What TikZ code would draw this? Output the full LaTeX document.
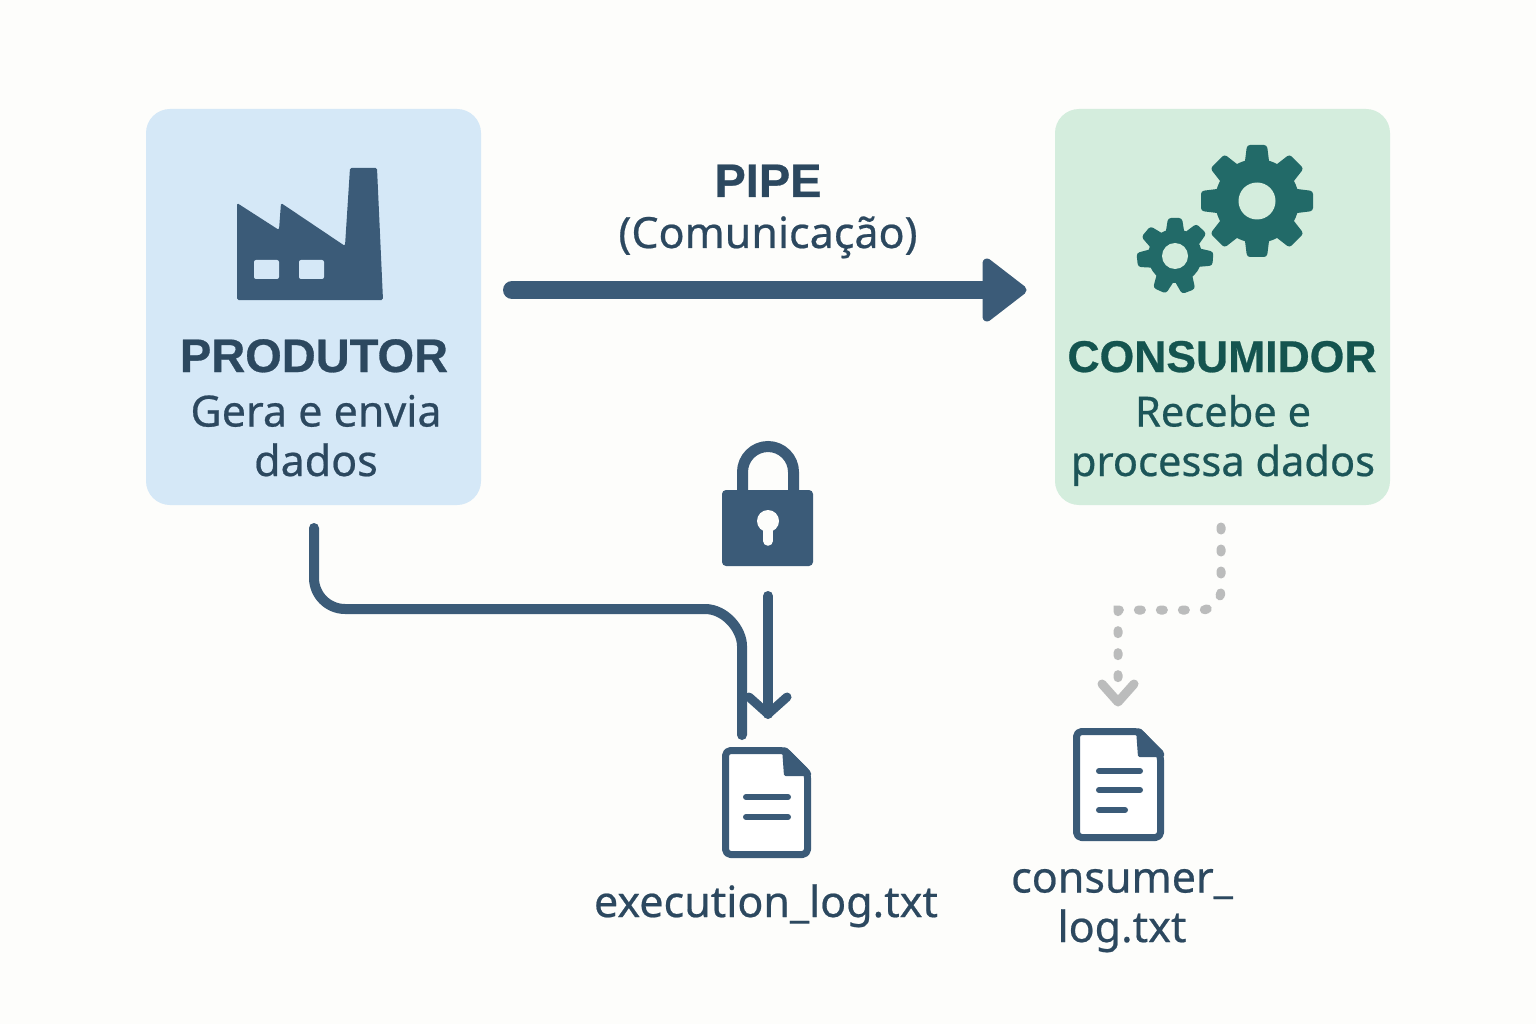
\documentclass[tikz,border=0pt]{standalone}
\usepackage{fontspec}
\setmainfont{Noto Sans}[FakeBold=0.5]
\newfontfamily\titlefont{Liberation Sans}[BoldFeatures={FakeBold=0.6}]
\usetikzlibrary{arrows.meta}
\definecolor{pagebg}{HTML}{FDFDFB}
\definecolor{bluebox}{HTML}{D5E8F7}
\definecolor{greenbox}{HTML}{D4EDDD}
\definecolor{navy}{HTML}{3B5B78}
\definecolor{inknavy}{HTML}{2C485F}
\definecolor{inkgreen}{HTML}{14544F}
\definecolor{bodygreen}{HTML}{1C5558}
\definecolor{gearteal}{HTML}{226A68}
\definecolor{dotgray}{HTML}{BBBCBC}
\tikzset{
  panel/.style={rounded corners=24pt,minimum width=335pt,minimum height=396pt,inner sep=0pt},
  titletext/.style={anchor=base,font=\fontsize{47}{50}\selectfont\titlefont\bfseries,text=inknavy},
  bodytext/.style={anchor=base,align=center,font=\fontsize{43}{49.5}\selectfont,text=inknavy},
  conn/.style={draw=navy,line width=10pt,line cap=round,line join=round},
  docline/.style={draw=navy,line width=6pt,line cap=round},
  docbody/.style={draw=navy,line width=7pt,fill=white,rounded corners=5pt,line join=round},
  docfold/.style={fill=navy,rounded corners=1.5pt},
  solidicon/.style={fill=navy,rounded corners=1.5pt},
}
\newcommand{\geartooth}[4]{% angle, base, outer, half width
  \begin{scope}[rotate=#1]
    \fill[rounded corners=3pt] (#2-6,-#4-2) -- (#3,-#4+1) -- (#3,#4-1) -- (#2-6,#4+2) -- cycle;
  \end{scope}}
\begin{document}
\begin{tikzpicture}[x=1pt,y=-1pt]
\useasboundingbox (0,0) rectangle (1536,1024);
\fill[pagebg] (0,0) rectangle (1536,1024);

\node[panel,fill=bluebox] (prod) at (313.5,307) {};
\node[panel,fill=greenbox] (cons) at (1222.5,307) {};

% factory
\fill[solidicon] (237,203) -- (279,230) -- (281,203) -- (345,246) -- (350,168) -- (377,168) -- (383,300) -- (237,300) -- cycle;
\fill[bluebox,rounded corners=2pt] (254,260) rectangle (279,279);
\fill[bluebox,rounded corners=2pt] (299,260) rectangle (324,279);

% gears
\begin{scope}[shift={(1257,201)},fill=gearteal]
  \fill circle (42);
  \foreach \a in {0,45,...,315} {\geartooth{\a}{38}{56}{11}}
  \fill[greenbox] circle (18.5);
\end{scope}
\begin{scope}[shift={(1175,256)},fill=gearteal]
  \fill circle (27);
  \foreach \a in {90,46,-4,-69,-114,-174,140} {\geartooth{\a}{25}{38}{8}}
  \fill[greenbox] circle (13);
\end{scope}

% labels
\node[titletext] (prodt) at (314,372) {PRODUTOR};
\node[bodytext] (prodb) at (316,476) {Gera e envia\\dados};
\node[titletext,text=inkgreen,font=\fontsize{44.5}{50}\selectfont\titlefont\bfseries] (const) at (1222,372) {CONSUMIDOR};
\node[bodytext,text=bodygreen,font=\fontsize{41.6}{49.5}\selectfont] (consb) at (1223,476) {Recebe e\\processa dados};
\node[titletext] (pipet) at (768,197) {PIPE};
\node[bodytext] (pipeb) at (768,248) {(Comunicação)};

% pipe arrow
\coordinate (pipeS) at (512,290);
\coordinate (pipeB) at (990,290);
\coordinate (pipeE) at (1022,290);
\coordinate (pipeU) at (987,263);
\coordinate (pipeD) at (987,317);
\draw[navy,line width=18pt,line cap=round] (pipeS) -- (pipeB);
\filldraw[navy,line width=9pt,line join=round] (pipeU) -- (pipeE) -- (pipeD) -- cycle;

% lock
\draw[navy,line width=11pt] (742.5,492) -- (742.5,472) .. controls (742.5,458) and (754,446.5) .. (768,446.5) .. controls (782,446.5) and (793.5,458) .. (793.5,472) -- (793.5,492);
\node[solidicon,rounded corners=4pt,minimum width=91pt,minimum height=76pt,inner sep=0pt] (lock) at (767.5,528) {};
\fill[pagebg] (768,521) circle (11);
\draw[pagebg,line width=9.5pt,line cap=round] (768,525) -- (768,541);

% doc 1
\draw[docbody] (725.5,750.5) -- (785,750.5) -- (807.5,773) -- (807.5,854.5) -- (725.5,854.5) -- cycle;
\fill[docfold] (782,748) -- (786,747) -- (811,772) -- (811,776) -- (784,776) -- cycle;
\draw[docline] (746,797) -- (788,797);
\draw[docline] (746,817) -- (788,817);
\node[bodytext] (doc1t) at (766,917) {execution\_log.txt};

% doc 2
\draw[docbody] (1076.5,731.5) -- (1139,731.5) -- (1160.5,755) -- (1160.5,837.5) -- (1076.5,837.5) -- cycle;
\fill[docfold] (1136,729) -- (1140,728) -- (1164,752) -- (1164,757) -- (1138,757) -- cycle;
\draw[docline] (1099,771) -- (1140,771);
\draw[docline] (1099,790) -- (1140,790);
\draw[docline] (1099,810) -- (1125,810);
\node[bodytext] (doc2t) at (1122,942) {consumer\_\\log.txt};

% connectors
\coordinate (logS) at (314,528);
\coordinate (logE) at (742,735);
\draw[conn] (logS) -- (314,578) .. controls (314,595) and (328,609) .. (345,609) -- (705,609) .. controls (725.4,609) and (742,629.6) .. (742,646) -- (logE);
\coordinate (lockS) at (768,596);
\coordinate (lockE) at (768,714);
\draw[navy,line width=10pt,line cap=round,line join=round] (lockS) -- (lockE);
\draw[navy,line width=9pt,line cap=round,line join=round] (749,697) -- (lockE) -- (787,697);
\coordinate (grayS) at (1221,527);
\coordinate (grayE) at (1118,702);
\draw[dotgray,line width=9pt,line cap=round,dash pattern=on 3pt off 19pt] (grayS) -- (1221,590) .. controls (1221,601) and (1212,610) .. (1201,610) -- (1118,610) -- (1118,680);
\draw[dotgray,line width=9pt,line cap=round,line join=round] (1102,684) -- (grayE) -- (1134,684);
\end{tikzpicture}
\end{document}
